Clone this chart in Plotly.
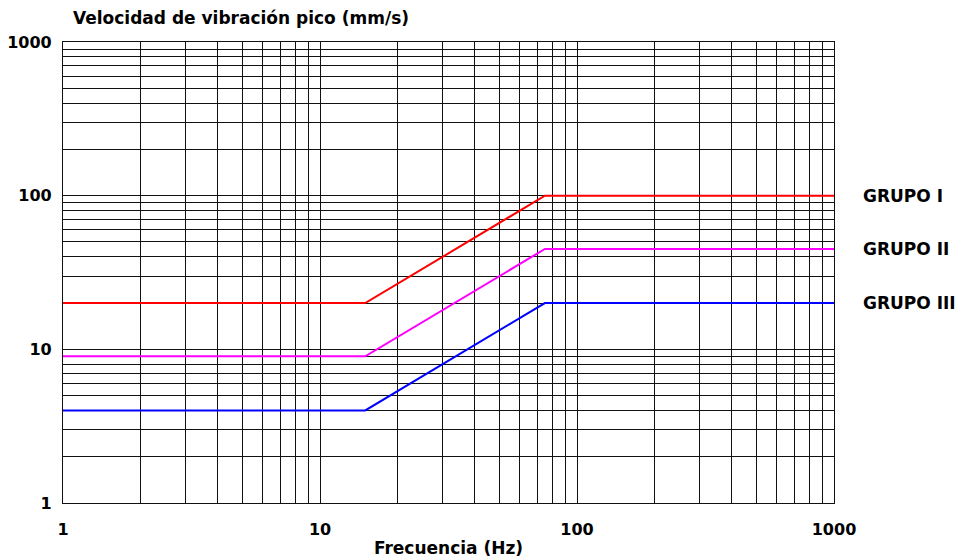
import math
import plotly.graph_objects as go

# Data (UNE 22-381 vibration limits)
freq = [1, 15, 75, 1000]
grupo_i = [20, 20, 100, 100]
grupo_ii = [9, 9, 45, 45]
grupo_iii = [4, 4, 20, 20]
series_names = ["GRUPO I", "GRUPO II", "GRUPO III"]
series_values = [grupo_i, grupo_ii, grupo_iii]
series_colors = ["#ff0000", "#ff00ff", "#0000ff"]

major_ticks = [1, 10, 100, 1000]
major_labels = ["1", "10", "100", "1000"]
minor_ticks = [m * d for d in [1, 10, 100] for m in range(2, 10)]

FONT = "DejaVu Sans"
INK = "#111111"
TXT = "#000000"

fig = go.Figure()
for name, vals, col in zip(series_names, series_values, series_colors):
    fig.add_trace(go.Scatter(x=freq, y=vals, mode="lines", name=name,
                             line=dict(color=col, width=2), showlegend=False))
    fig.add_annotation(x=1.035, xref="paper", y=math.log10(vals[-1]), yref="y",
                       text="<b>%s</b>" % name, showarrow=False,
                       xanchor="left", yanchor="middle",
                       font=dict(family=FONT, size=17, color=TXT))

axis_common = dict(
    type="log", range=[0, 3],
    tickvals=major_ticks, ticktext=["<b>%s</b>" % t for t in major_labels],
    showgrid=True, gridcolor=INK, gridwidth=1.2,
    minor=dict(tickvals=minor_ticks, showgrid=True, gridcolor=INK, gridwidth=1.2, ticks=""),
    showline=True, linecolor=INK, linewidth=1.2, mirror=True,
    ticks="", zeroline=False,
    tickfont=dict(family=FONT, size=16, color=TXT),
)

fig.update_xaxes(**axis_common, ticklabelstandoff=12,
                 title=dict(text="<b>Frecuencia (Hz)</b>", standoff=4,
                            font=dict(family=FONT, size=17, color=TXT)))
fig.update_yaxes(**axis_common, ticklabelstandoff=7)

fig.update_layout(
    width=965, height=558,
    margin=dict(l=63, r=131, t=42, b=55, autoexpand=False),
    plot_bgcolor="white", paper_bgcolor="white",
    title=dict(text="<b>Velocidad de vibración pico (mm/s)</b>",
               x=73 / 965, xref="container", xanchor="left",
               y=1 - 18 / 558, yref="container", yanchor="middle",
               font=dict(family=FONT, size=17, color=TXT)),
)

fig.write_html("out.html", config={"displayModeBar": False},
               post_script="document.body.style.margin='0';document.body.style.overflow='hidden';")
